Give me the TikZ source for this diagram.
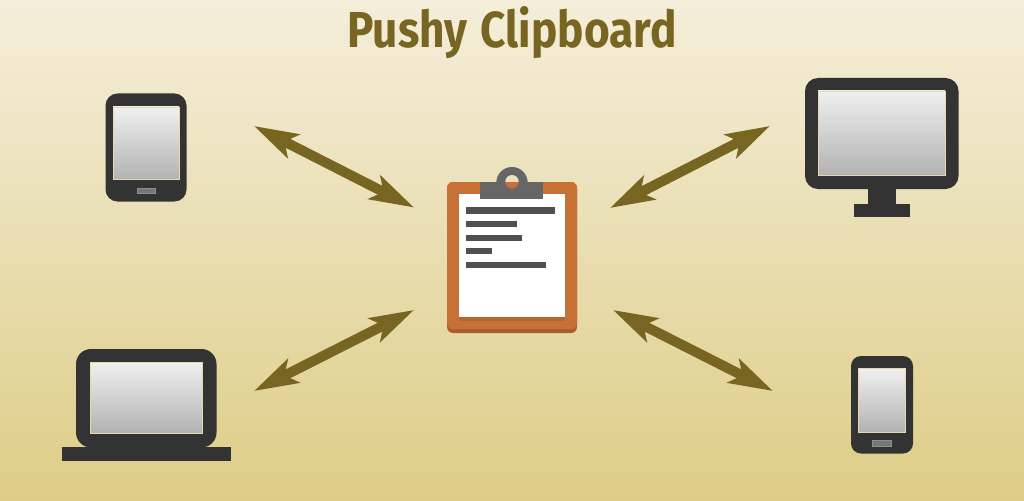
\documentclass[tikz,border=0pt]{standalone}
\usepackage{fontspec}
\setmainfont{Fira Sans}
\usetikzlibrary{arrows.meta}
\definecolor{bgtop}{RGB}{244,238,218}
\definecolor{bgbot}{RGB}{222,205,135}
\definecolor{olive}{RGB}{120,101,33}
\definecolor{dev}{RGB}{51,51,51}
\definecolor{devbtn}{RGB}{118,118,118}
\definecolor{orange}{RGB}{200,113,55}
\definecolor{orangedk}{RGB}{168,94,48}
\definecolor{shadowor}{RGB}{182,101,48}
\definecolor{clipgray}{RGB}{102,102,102}
\definecolor{textline}{RGB}{80,80,80}
\tikzset{
  body/.style={fill=dev},
  screen/.style={top color=white!94!black,bottom color=white!70!black,draw=bgbot!75!white,line width=.5pt},
  btn/.style={fill=devbtn,draw=white!45!dev,line width=.4pt},
  linkarrow/.style={draw=olive,line width=10pt,{Stealth[length=44pt,width=26pt,inset=10pt,fill=olive]}-{Stealth[length=44pt,width=26pt,inset=10pt,fill=olive]}},
  txtline/.style={fill=textline},
}
\begin{document}
\begin{tikzpicture}[x=1pt,y=-1pt]
\useasboundingbox (0,0) rectangle (1024,500);
\shade[top color=bgtop,bottom color=bgbot] (0,0) rectangle (1024,500);
% title
\node[text=olive,font=\bfseries\fontsize{46}{46}\selectfont,xscale=.96,yscale=1.1] (title) at (512,33) {Pushy\hspace{3pt} Clipboard};
% tablet
\fill[body,rounded corners=12pt] (105.5,93.5) rectangle (186.5,201.5);
\shade[screen] (113,107) rectangle (179,179);
\path[btn] (137,188) rectangle (155,193);
% monitor
\fill[body,rounded corners=13pt] (805,78) rectangle (958.5,189);
\fill[body] (868,185) rectangle (896,205);
\fill[body] (854,204) rectangle (910,217);
\shade[screen] (818,91) rectangle (945,175);
% laptop
\fill[body,rounded corners=15pt] (76,349) rectangle (216.5,447.5);
\fill[body] (62,447) rectangle (230.5,461);
\shade[screen] (90,362) rectangle (202,433);
% phone
\fill[body,rounded corners=10pt] (851,356) rectangle (913,453.5);
\shade[screen] (858.5,368.5) rectangle (905.5,432);
\path[btn] (872.5,440) rectangle (891.5,446);
% clipboard
\fill[orangedk,rounded corners=6pt] (447,182) rectangle (577,333);
\fill[orange,rounded corners=6pt] (447,182) rectangle (577,329);
\fill[shadowor] (459,300) rectangle (565,321);
\fill[white] (459,194) rectangle (565,317);
\fill[clipgray] (512,182.7) circle (15.7pt);
\fill[clipgray] (480.3,182) rectangle (543.3,199);
\begin{scope}
\clip (512,181.7) circle (6.7pt);
\fill[bgtop!64!bgbot] (500,170) rectangle (524,182);
\fill[orange] (500,182) rectangle (524,192);
\end{scope}
\fill[txtline] (466.3,207.3) rectangle (554.7,213.7);
\fill[txtline] (466.3,221) rectangle (516.7,227.3);
\fill[txtline] (466.3,234.7) rectangle (522.3,241);
\fill[txtline] (466.3,248.3) rectangle (492.3,254.3);
\fill[txtline] (466.3,262.3) rectangle (546.3,268.3);
% connectors
\coordinate (tlA) at (254,126); \coordinate (tlB) at (414,207.5);
\coordinate (trA) at (770,126); \coordinate (trB) at (610,208);
\coordinate (blA) at (254,391); \coordinate (blB) at (414,310);
\coordinate (brA) at (773,391); \coordinate (brB) at (613,310);
\draw[linkarrow] (tlA) -- (tlB);
\draw[linkarrow] (trA) -- (trB);
\draw[linkarrow] (blA) -- (blB);
\draw[linkarrow] (brA) -- (brB);
\end{tikzpicture}
\end{document}
